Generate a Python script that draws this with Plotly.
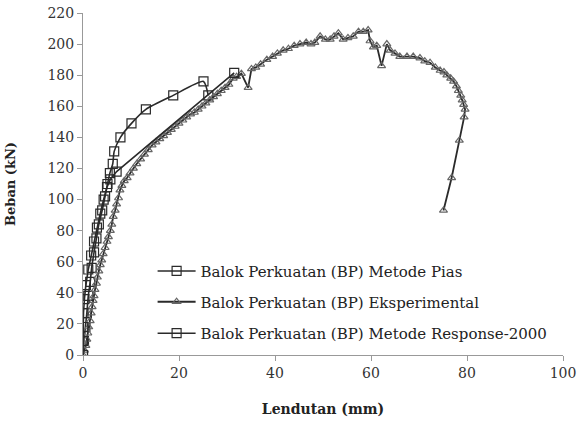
import plotly.graph_objects as go

# Metode Pias (smoothed analytical curve)
pias_x = [0, 0.2, 0.5, 0.8, 1.1, 1.5, 1.8, 2.3, 2.8, 3.3, 4.0, 4.6, 5.1, 5.6, 6.2,
          6.5, 7.8, 10.1, 13.1, 18.8, 25.1, 26.1]
pias_y = [0, 9, 18, 27, 38, 47, 56, 66, 75, 84, 93, 102, 110, 117, 123,
          131, 140, 149, 158, 167, 176, 167]

# Eksperimental (measured load-deflection)
exp_x = [0, 0.3, 0.6, 0.8, 1.0, 1.2, 1.5, 1.7, 1.9, 2.1, 2.3, 2.5, 2.8, 3.0, 3.3,
         3.6, 3.9, 4.2, 4.6, 5.0, 5.3, 5.7, 6.0, 6.3, 6.7, 7.0, 7.4, 7.7, 8.1, 8.6,
         9.2, 9.8, 10.5, 11.2, 12.0, 12.8, 13.6, 14.4, 15.2, 16.0, 16.8, 17.6, 18.4,
         19.2, 20.0, 20.8, 21.6, 22.4, 23.2, 24.0, 24.8, 25.6, 26.4, 27.2, 28.0,
         28.8, 29.6, 30.4, 31.3, 32.0, 33.0, 34.4, 35.1, 36.0, 37.0, 38.3, 39.5,
         40.5, 41.7, 42.8, 44.0, 45.2, 46.5, 47.5, 48.3, 49.4, 50.5, 51.5, 52.3,
         53.2, 54.2, 55.2, 56.3, 57.4, 58.4, 59.4, 59.8, 60.5, 61.2, 62.2, 63.3,
         64.0, 65.0, 66.0, 67.5, 68.8, 70.2, 71.2, 72.3, 73.4, 74.4, 75.2, 75.8,
         76.6, 77.2, 77.8, 78.2, 78.7, 79.0, 79.3, 79.6, 79.4, 78.4, 76.8, 75.1]
exp_y = [0, 3, 6, 10, 14, 18, 22, 27, 31, 35, 38, 42, 46, 50, 54,
         58, 61, 65, 69, 73, 76, 80, 84, 89, 93, 97, 101, 106, 109, 112,
         114, 117, 120, 123, 126, 129, 132, 135, 137, 139, 141, 143, 145,
         147, 149, 151, 153, 155, 156, 158, 160, 162, 164, 166, 168,
         170, 172, 174, 178, 179, 181, 172, 184, 185, 187, 190, 192,
         194, 196, 197, 199, 200, 201, 200, 201, 205, 203, 203, 205,
         207, 203, 204, 205, 208, 208, 209, 202, 198, 199, 186, 200,
         196, 194, 192, 192, 192, 191, 189, 188, 185, 183, 182, 180,
         178, 176, 173, 170, 167, 164, 161, 158, 153, 138, 114, 93]

# Metode Response-2000
resp_x = [0, 0, 0.05, 0.1, 0.3, 0.6, 1.1, 1.7, 2.3, 2.9, 3.6, 4.3, 5.0, 5.7, 7.0, 31.5]
resp_y = [0, 9, 18, 27, 36, 45, 55, 64, 73, 82, 91, 100, 108, 113, 118, 181.5]

names = ["Balok Perkuatan (BP) Metode Pias",
         "Balok Perkuatan (BP) Eksperimental",
         "Balok Perkuatan (BP) Metode Response-2000"]

x_ticks = [0, 20, 40, 60, 80, 100]
y_ticks = [0, 20, 40, 60, 80, 100, 120, 140, 160, 180, 200, 220]

serif = "DejaVu Serif, serif"

fig = go.Figure()
fig.add_trace(go.Scatter(
    x=pias_x, y=pias_y, name=names[0], mode="lines+markers",
    line=dict(color="#2a2a2a", width=1.6, shape="spline", smoothing=0.6),
    marker=dict(symbol="square-open", size=9, color="#2a2a2a", line=dict(width=1.2)),
    legend="legend"))
fig.add_trace(go.Scatter(
    x=exp_x, y=exp_y, name=names[1], mode="lines+markers",
    line=dict(color="#2a2a2a", width=1.8),
    marker=dict(symbol="triangle-up-open", size=7, color="#666666", line=dict(width=1.2)),
    legend="legend2"))
fig.add_trace(go.Scatter(
    x=resp_x, y=resp_y, name=names[2], mode="lines+markers",
    line=dict(color="#2a2a2a", width=1.6),
    marker=dict(symbol="square-open", size=9, color="#2a2a2a", line=dict(width=1.2)),
    legend="legend3"))

leg = dict(font=dict(family=serif, size=15, color="#222"), bgcolor="rgba(0,0,0,0)",
           xanchor="left", yanchor="middle", itemwidth=38, x=0.145, visible=True)

fig.update_layout(
    width=577, height=421,
    margin=dict(l=83, r=14, t=13, b=66),
    paper_bgcolor="white", plot_bgcolor="white",
    font=dict(family=serif, color="#222"),
    showlegend=True,
    legend=dict(leg, y=0.245),
    legend2=dict(leg, y=0.155),
    legend3=dict(leg, y=0.063),
    xaxis=dict(range=[0, 100], tickvals=x_ticks, showgrid=False, zeroline=False,
               automargin=False,
               showline=True, linecolor="#999", linewidth=1, ticks="outside",
               ticklen=5, tickcolor="#999", tickfont=dict(size=14, color="#333"),
               title=dict(text="<b>Lendutan (mm)</b>", font=dict(size=14, color="#222"),
                          standoff=24)),
    yaxis=dict(range=[0, 220], tickvals=y_ticks, showgrid=False, zeroline=False,
               automargin=False,
               showline=True, linecolor="#999", linewidth=1, ticks="outside",
               ticklen=5, tickcolor="#999", tickfont=dict(size=14, color="#333"),
               title=dict(text="<b>Beban (kN)</b>", font=dict(size=13, color="#222"),
                          standoff=28)),
)

fig.write_html("out.html")
